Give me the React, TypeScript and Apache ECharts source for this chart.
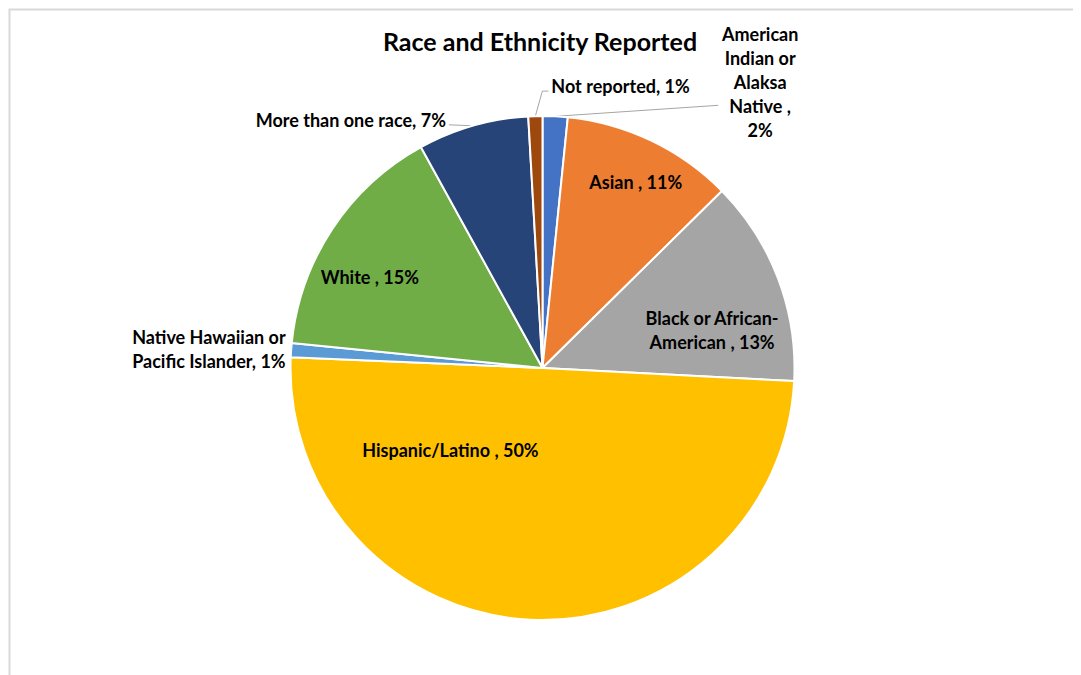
import React, { useEffect, useRef } from "react";
import * as echarts from "echarts";

// ---- data ----
const categories = [
  "American Indian or Alaksa Native ",
  "Asian ",
  "Black or African-American ",
  "Hispanic/Latino ",
  "Native Hawaiian or Pacific Islander",
  "White ",
  "More than one race",
  "Not reported",
];
const shares = [1.6, 11.0, 13.2, 49.8, 0.9, 15.4, 7.1, 0.9];
const labelPrefixes = [
  "American\nIndian or\nAlaksa\nNative ,\n",
  "Asian , ",
  "Black or African-\nAmerican , ",
  "Hispanic/Latino , ",
  "Native Hawaiian or\nPacific Islander, ",
  "White , ",
  "More than one race, ",
  "Not reported, ",
];
const colors = [
  "#4472C4",
  "#ED7D31",
  "#A5A5A5",
  "#FFC000",
  "#5B9BD5",
  "#70AD47",
  "#264478",
  "#9E480E",
];
const insideFlags = [false, true, true, true, false, true, false, false];

// ---- label layout tweaks (offsets, not data) ----
type Tweak =
  | { kind: "in"; dx: number; dy: number }
  | {
      kind: "out";
      line: number[][];
      lx: number;
      ly: number;
      align: string;
    };
const tweaks: Tweak[] = [
  { kind: "out", line: [[163, -11]], lx: 205, ly: -34.5, align: "center" },
  { kind: "in", dx: 37.5, dy: -70 },
  { kind: "in", dx: 49, dy: 8 },
  { kind: "in", dx: -86, dy: -47 },
  { kind: "out", line: [], lx: -5.5, ly: -1.5, align: "right" },
  { kind: "in", dx: -65, dy: -20 },
  { kind: "out", line: [[-24, -1]], lx: -27, ly: -6, align: "right" },
  { kind: "out", line: [[7, -25], [13, -25]], lx: 16, ly: -30, align: "left" },
];

const FONT = "Lato, 'Open Sans', sans-serif";

export default function App() {
  const ref = useRef<HTMLDivElement>(null);
  useEffect(() => {
    if (!ref.current) return;
    const chart = echarts.init(ref.current, undefined, { renderer: "svg" });
    const data = categories.map((name, i) => ({
      name,
      value: shares[i],
      itemStyle: { color: colors[i] },
      label: {
        position: insideFlags[i] ? "inside" : "outside",
        align: (tweaks[i] as any).align || "center",
      },
      labelLine: {
        show: !insideFlags[i],
        lineStyle: { opacity: i === 4 ? 0 : 1 },
      },
    }));
    chart.setOption({
      animation: false,
      backgroundColor: "#ffffff",
      title: {
        text: "Race and Ethnicity Reported",
        left: 527,
        top: 15,
        textAlign: "center",
        textStyle: {
          fontFamily: FONT,
          fontWeight: "bold",
          fontSize: 25,
          color: "#000000",
        },
      },
      graphic: [
        {
          type: "rect",
          shape: { x: 1.5, y: 1.5, width: 1066, height: 720 },
          style: { fill: "none", stroke: "#d9d9d9", lineWidth: 2 },
          silent: true,
        },
      ],
      series: [
        {
          type: "pie",
          center: [534.5, 360],
          radius: [0, 252],
          startAngle: 90,
          clockwise: true,
          avoidLabelOverlap: false,
          itemStyle: { borderColor: "#ffffff", borderWidth: 2 },
          emphasis: { disabled: true },
          label: {
            show: true,
            fontFamily: FONT,
            fontWeight: "bold",
            fontSize: 18,
            lineHeight: 24,
            color: "#000000",
            formatter: (p: any) =>
              labelPrefixes[p.dataIndex] + Math.round(p.percent) + "%",
          },
          labelLine: {
            show: true,
            length: 10,
            length2: 10,
            lineStyle: { color: "#a6a6a6", width: 1 },
          },
          labelLayout: (p: any) => {
            const t = tweaks[p.dataIndex];
            if (!t) return {};
            if (t.kind === "in") return { dx: t.dx, dy: t.dy };
            const e = p.labelLinePoints && p.labelLinePoints[0];
            if (!e) return {};
            const pts = [[e[0], e[1]]].concat(
              t.line.map((d) => [e[0] + d[0], e[1] + d[1]])
            );
            if (pts.length < 2) pts.push([e[0], e[1]]);
            return {
              x: e[0] + t.lx,
              y: e[1] + t.ly,
              align: t.align,
              verticalAlign: "middle",
              labelLinePoints: pts,
            };
          },
          data,
        },
      ],
    });
    return () => chart.dispose();
  }, []);
  return <div ref={ref} style={{ width: 1073, height: 667 }} />;
}
